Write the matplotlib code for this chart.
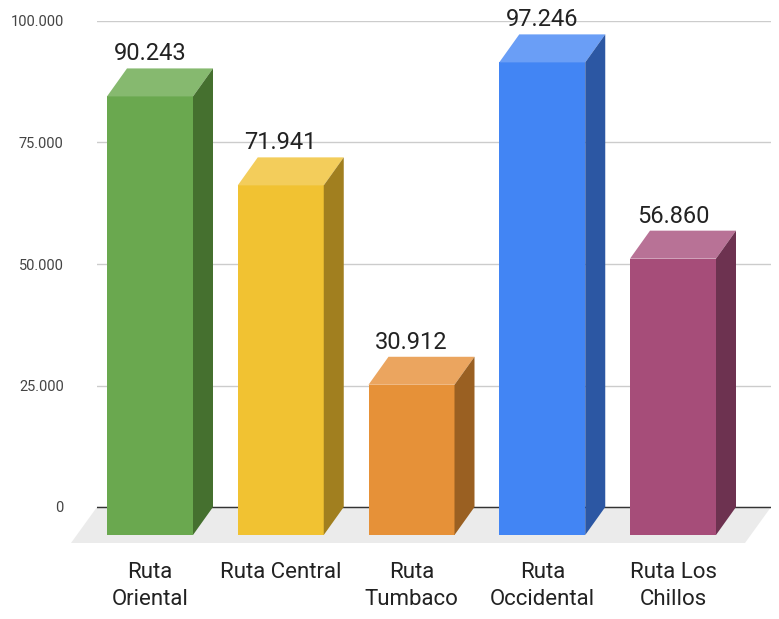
"""
Rutas - 3D style bar chart (Google Sheets look).
"""

import matplotlib.pyplot as plt
from matplotlib.patches import Polygon

plt.rcParams["font.family"] = ["Roboto", "DejaVu Sans"]

# ---- data ----
routes = ["Ruta\nOriental", "Ruta Central", "Ruta\nTumbaco", "Ruta\nOccidental", "Ruta Los\nChillos"]
values = [90243, 71941, 30912, 97246, 56860]
y_ticks = [0, 25000, 50000, 75000, 100000]
y_tick_labels = ["0", "25.000", "50.000", "75.000", "100.000"]

# front / top / side colours per bar
front_colors = ["#6aa84f", "#f1c232", "#e69138", "#4285f4", "#a64d79"]
top_colors   = ["#86b96f", "#f3cd5b", "#eba55f", "#6a9ef6", "#b87296"]
side_colors  = ["#45702f", "#a17f1f", "#9a6022", "#2c57a3", "#6d3250"]

# ---- geometry (in data units) ----
W, H, DPI = 779, 619, 100
px_x = 130.75                 # px per category
px_y = 121.5 / 25000          # px per unit value
bar_w = 86 / px_x
dx, dy = 20 / px_x, 28 / px_y            # bar depth
fdx, fdy = 26 / px_x, 36 / px_y          # floor depth

fig = plt.figure(figsize=(W / DPI, H / DPI), dpi=DPI)
left, right, top, bottom = 97, 771, 21, 543
ax = fig.add_axes([left / W, (H - bottom) / H, (right - left) / W, (bottom - top) / H])
ax.set_xlim((left - 150) / px_x, (right - 150) / px_x)
ax.set_ylim(-(bottom - 507) / px_y, 100000 + (21 - top) / px_y)

for s in ax.spines.values():
    s.set_visible(False)
ax.set_axisbelow(True)
ax.set_yticks(y_ticks, y_tick_labels)
ax.yaxis.grid(True, color="#cccccc", linewidth=1)
ax.tick_params(axis="y", length=0, pad=24, labelsize=10.5, labelcolor="#444444")
ax.axhline(0, color="#333333", linewidth=1, zorder=0.8)

x0, x1 = ax.get_xlim()
floor = Polygon([(x0, 0), (x1, 0), (x1 - fdx, -fdy), (x0 - fdx, -fdy)],
                closed=True, facecolor="#ebebeb", edgecolor="none", zorder=0.3, clip_on=False)
ax.add_patch(floor)

for i, v in enumerate(values):
    l, r = i - bar_w / 2, i + bar_w / 2
    front = Polygon([(l, -dy), (r, -dy), (r, v - dy), (l, v - dy)],
                    facecolor=front_colors[i], edgecolor="none", zorder=3, clip_on=False)
    roof = Polygon([(l, v - dy), (r, v - dy), (r + dx, v), (l + dx, v)],
                   facecolor=top_colors[i], edgecolor="none", zorder=3, clip_on=False)
    side = Polygon([(r, -dy), (r + dx, 0), (r + dx, v), (r, v - dy)],
                   facecolor=side_colors[i], edgecolor="none", zorder=3, clip_on=False)
    for p in (front, roof, side):
        ax.add_patch(p)
    ax.text(i, v + 3 / px_y, f"{v:,}".replace(",", "."), ha="center", va="bottom",
            fontsize=17, color="#222222", zorder=4, clip_on=False)

ax.set_xticks(range(len(routes)), routes)
ax.tick_params(axis="x", length=0, pad=14, labelsize=16, labelcolor="#222222")
for t in ax.get_xticklabels():
    t.set_linespacing(1.35)

fig.savefig("out.png", dpi=DPI)
